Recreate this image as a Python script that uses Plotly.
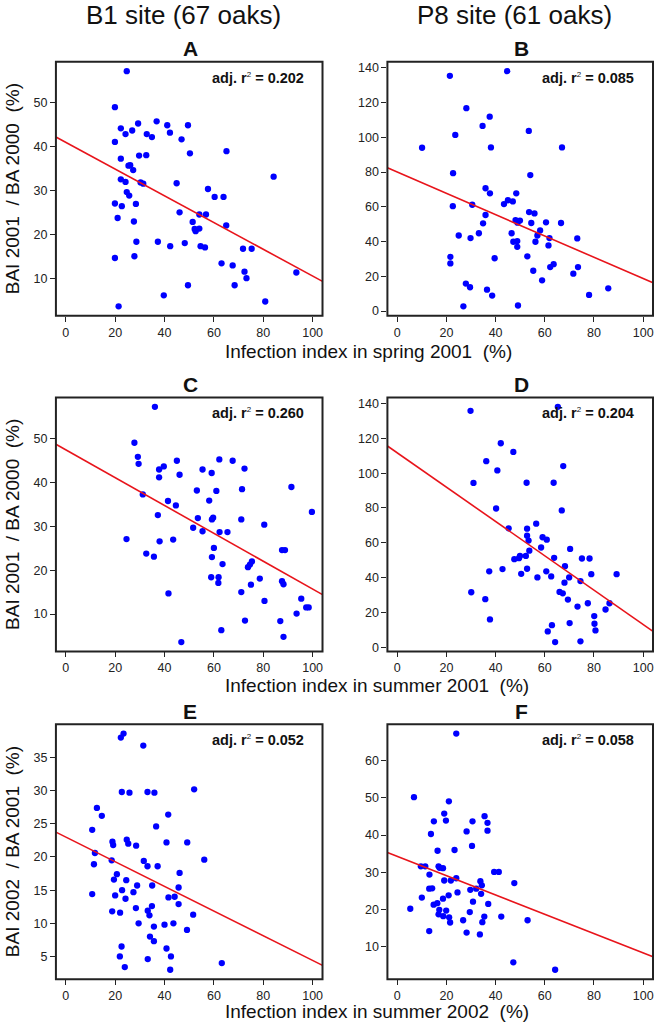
import plotly.graph_objects as go

W, H = 657, 1026
FONT = "Liberation Sans, Arial, sans-serif"

# ---------------- data ----------------
xA = [24.7, 19.9, 19.9, 22.3, 24.2, 26.9, 29.3, 36.8, 41.1, 49.5, 32.8, 34.9, 42.2, 46.9,
      22.3, 29.7, 32.6, 50.3, 65.1, 25.4, 26.1, 27.3, 22.3, 24.2, 30.3, 31.4, 44.9, 84.2,
      24.7, 25.7, 57.6, 60.3, 63.9, 19.9, 28.4, 22.7, 46.1, 21.0, 27.6, 54.1, 56.8, 65.0,
      51.4, 52.2, 52.6, 54.1, 28.6, 37.3, 48.2, 42.3, 54.6, 56.4, 71.8, 75.3, 19.9, 27.8,
      63.1, 67.6, 72.4, 73.2, 93.4, 49.5, 68.4, 39.7, 80.8, 21.4]
yA = [57.2, 49.0, 41.1, 44.2, 42.9, 43.7, 45.3, 45.8, 44.9, 44.9, 42.9, 42.2, 43.2, 41.7,
      37.3, 38.0, 38.1, 38.5, 39.0, 35.7, 35.8, 34.7, 32.6, 32.0, 31.9, 31.6, 31.7, 33.2,
      29.7, 28.9, 30.4, 28.6, 28.6, 27.1, 27.0, 26.5, 25.1, 23.8, 23.0, 24.6, 24.6, 22.1,
      22.9, 21.3, 20.8, 21.4, 18.4, 18.4, 18.1, 17.4, 17.4, 17.1, 16.8, 16.8, 14.7, 15.1,
      13.5, 13.0, 11.6, 10.1, 11.4, 8.5, 8.5, 6.2, 4.8, 3.7]

xB = [10.1, 21.4, 44.7, 28.1, 37.6, 34.7, 23.6, 53.5, 38.1, 67.0, 22.7, 54.1, 35.9, 37.7,
      48.4, 22.6, 30.5, 43.4, 45.0, 47.0, 35.9, 53.6, 55.8, 34.9, 48.1, 49.9, 48.9, 54.5,
      60.5, 66.6, 25.0, 33.2, 29.8, 46.5, 58.1, 57.0, 47.2, 48.8, 56.2, 48.8, 61.9, 61.5,
      73.2, 21.6, 21.6, 39.6, 52.9, 55.3, 63.6, 62.2, 73.5, 71.6, 58.9, 27.9, 29.6, 36.5,
      85.8, 38.6, 78.0, 26.9, 49.1]
yB = [94.0, 135.4, 138.1, 116.8, 111.9, 106.6, 101.4, 103.7, 94.2, 94.2, 79.4, 78.3, 70.7,
      67.8, 67.8, 60.4, 61.2, 61.6, 63.8, 63.1, 55.3, 57.0, 56.2, 50.5, 52.4, 52.1, 50.9,
      50.7, 51.1, 50.7, 43.5, 44.8, 42.0, 44.8, 46.4, 43.5, 39.9, 40.3, 39.9, 37.0, 42.0,
      37.8, 41.8, 31.2, 27.4, 30.4, 31.5, 23.2, 27.0, 25.3, 25.3, 21.5, 17.7, 15.8, 13.7,
      12.3, 13.1, 8.9, 9.3, 2.7, 3.2]

xC = [36.1, 27.8, 29.2, 29.5, 37.8, 39.7, 45.0, 46.1, 37.8, 55.4, 59.1, 62.2, 67.6, 72.4,
      31.2, 53.1, 61.0, 71.4, 91.4, 41.4, 44.6, 58.1, 37.3, 53.5, 59.2, 59.7, 71.1, 80.4,
      99.7, 24.6, 38.0, 43.5, 51.6, 55.4, 62.3, 65.5, 60.0, 87.6, 88.8, 32.6, 35.7, 59.2,
      63.5, 73.8, 74.6, 75.4, 58.9, 61.9, 78.6, 61.8, 75.0, 87.6, 88.2, 41.6, 71.1, 95.4,
      80.5, 93.5, 97.4, 98.4, 72.6, 86.9, 63.0, 88.2, 46.8]
yC = [57.3, 49.1, 45.9, 44.3, 43.0, 43.7, 45.0, 41.8, 41.2, 43.0, 42.2, 45.3, 45.0, 43.2,
      37.3, 38.2, 38.1, 38.5, 39.0, 35.8, 34.8, 35.9, 32.6, 31.9, 31.6, 32.0, 31.6, 30.4,
      33.3, 27.1, 26.6, 27.0, 29.7, 28.9, 28.7, 28.7, 25.1, 24.6, 24.6, 23.8, 23.1, 23.0,
      21.4, 20.7, 21.3, 22.0, 18.4, 18.4, 18.1, 17.1, 16.7, 17.5, 16.8, 14.7, 15.0, 13.5,
      13.0, 10.1, 11.5, 11.5, 8.5, 8.4, 6.3, 4.8, 3.6]

xD = [29.8, 65.3, 42.1, 47.2, 36.2, 40.7, 67.5, 31.0, 52.6, 63.6, 40.2, 66.9, 56.5, 45.3,
      52.8, 52.8, 59.1, 60.8, 53.4, 58.5, 53.7, 70.3, 52.3, 49.9, 49.5, 47.6, 63.8, 75.1,
      78.2, 68.2, 42.8, 52.8, 37.4, 60.6, 50.4, 57.0, 62.6, 69.9, 78.9, 89.2, 74.5, 68.0,
      30.1, 66.0, 67.3, 35.8, 69.4, 73.3, 77.5, 86.3, 84.7, 80.1, 37.7, 70.1, 80.2, 62.9,
      61.2, 80.6, 64.2, 74.5]
yD = [135.8, 138.1, 117.2, 112.2, 106.9, 101.6, 104.1, 94.4, 94.5, 94.5, 79.7, 78.6, 71.0,
      68.3, 68.1, 64.1, 63.2, 61.8, 61.3, 57.3, 55.5, 56.5, 52.5, 52.5, 51.2, 50.6, 51.4,
      51.0, 51.0, 46.6, 44.9, 45.1, 43.6, 43.6, 42.2, 40.1, 40.7, 40.1, 42.0, 42.0, 38.0,
      37.1, 31.6, 31.8, 31.0, 27.6, 27.4, 23.4, 25.3, 25.3, 21.7, 17.9, 16.0, 13.9, 13.5,
      12.7, 9.1, 9.7, 3.0, 3.4]

xE = [23.4, 22.3, 31.4, 22.7, 25.8, 33.1, 35.9, 52.0, 12.6, 14.6, 41.5, 36.6, 10.7, 18.9,
      19.2, 24.7, 25.3, 28.5, 40.8, 49.2, 11.8, 18.6, 11.4, 31.6, 33.1, 37.2, 56.1, 20.7,
      19.5, 24.5, 46.1, 28.9, 35.0, 45.7, 22.8, 27.4, 10.7, 20.0, 24.2, 41.6, 44.1, 45.7,
      34.9, 28.4, 18.8, 22.0, 33.2, 33.9, 51.6, 29.5, 40.0, 43.6, 35.7, 49.1, 34.1, 35.7,
      22.6, 40.8, 21.9, 42.6, 33.2, 63.2, 23.9, 42.3]
yE = [38.6, 38.0, 36.8, 29.8, 29.7, 29.8, 29.7, 30.2, 27.4, 26.2, 26.4, 24.6, 24.1, 22.3,
      21.8, 22.6, 22.0, 21.7, 22.2, 22.2, 20.6, 19.5, 18.9, 19.4, 18.6, 18.6, 19.6, 17.4,
      16.6, 16.5, 17.6, 15.7, 15.7, 15.4, 15.0, 14.7, 14.4, 14.2, 13.7, 13.9, 14.0, 12.9,
      12.6, 12.3, 11.8, 11.6, 11.9, 11.2, 11.3, 10.0, 9.8, 10.0, 9.5, 9.0, 8.0, 7.3,
      6.5, 6.2, 5.0, 5.0, 4.6, 4.0, 3.4, 3.0]

xF = [24.0, 6.8, 21.0, 19.1, 19.8, 14.9, 30.6, 35.5, 36.7, 36.7, 28.2, 13.7, 30.4, 16.4,
      23.3, 9.6, 11.4, 16.8, 17.2, 18.6, 13.1, 39.4, 41.3, 24.0, 19.1, 21.8, 33.8, 34.4,
      47.6, 13.0, 14.2, 29.7, 32.1, 24.5, 34.1, 10.0, 20.9, 18.6, 30.8, 37.0, 14.8, 16.3,
      5.3, 17.1, 19.9, 29.5, 16.8, 18.7, 21.1, 35.4, 42.3, 21.5, 26.8, 34.6, 53.0, 13.0,
      28.2, 33.6, 47.2, 64.2]
yF = [67.3, 50.2, 49.1, 45.8, 43.9, 43.7, 43.7, 45.1, 43.3, 41.2, 41.0, 40.3, 37.1, 35.8,
      36.0, 31.6, 31.6, 31.6, 31.2, 31.1, 29.4, 30.1, 30.1, 28.4, 27.8, 27.8, 27.6, 26.5,
      27.1, 25.6, 25.7, 25.3, 25.6, 24.6, 24.2, 23.2, 23.8, 22.9, 22.1, 21.5, 21.3, 21.7,
      20.2, 19.9, 19.7, 19.3, 18.7, 18.2, 17.9, 18.1, 18.1, 16.5, 17.1, 16.6, 17.1, 14.2,
      13.8, 13.3, 5.8, 3.8]

panel_letters = ["A", "B", "C", "D", "E", "F"]
adj_r2 = ["0.202", "0.085", "0.260", "0.204", "0.052", "0.058"]
fit_intercept = [41.0, 80.0, 47.5, 111.7, 23.0, 34.3]
fit_slope = [-0.304, -0.613, -0.318, -0.986, -0.186, -0.260]

x_ticks = [0, 20, 40, 60, 80, 100]
y_ticks_A = [10, 20, 30, 40, 50]
y_ticks_B = [0, 20, 40, 60, 80, 100, 120, 140]
y_ticks_C = [10, 20, 30, 40, 50]
y_ticks_D = [0, 20, 40, 60, 80, 100, 120, 140]
y_ticks_E = [5, 10, 15, 20, 25, 30, 35]
y_ticks_F = [10, 20, 30, 40, 50, 60]

site_titles = ["B1 site (67 oaks)", "P8 site (61 oaks)"]
x_titles = ["Infection index in spring 2001\u00a0 (%)",
            "Infection index in summer 2001\u00a0 (%)",
            "Infection index in summer 2002\u00a0 (%)"]
y_titles = ["BAI 2001\u00a0 / BA 2000\u00a0 (%)",
            "BAI 2001\u00a0 / BA 2000\u00a0 (%)",
            "BAI 2002\u00a0 / BA 2001\u00a0 (%)"]

xs = [xA, xB, xC, xD, xE, xF]
ys = [yA, yB, yC, yD, yE, yF]
yticks = [y_ticks_A, y_ticks_B, y_ticks_C, y_ticks_D, y_ticks_E, y_ticks_F]

# ---------------- layout geometry (pixels) ----------------
col_left = [56, 388]
col_right = [323, 654]
row_top = [61, 398, 726]
row_bottom = [316, 653, 982]
X_RANGE = [-4, 104]


def px(p):
    return p / W


def py(p):
    return 1 - p / H


fig = go.Figure()
annotations = []
shapes = []

for i in range(6):
    r, c = divmod(i, 2)
    n = i + 1
    xa = "x" if n == 1 else f"x{n}"
    ya = "y" if n == 1 else f"y{n}"
    xd = [px(col_left[c]), px(col_right[c])]
    yd = [py(row_bottom[r]), py(row_top[r])]

    yv = ys[i]
    ymin, ymax = min(yv), max(yv)
    pad = 0.04 * (ymax - ymin)
    y_range = [ymin - pad, ymax + pad]

    fig.add_trace(go.Scatter(
        x=xs[i], y=yv, mode="markers", xaxis=xa, yaxis=ya,
        marker=dict(color="#0000ff", size=6.3, line=dict(width=0)),
        showlegend=False, hoverinfo="skip"))

    lx = X_RANGE
    ly = [fit_intercept[i] + fit_slope[i] * v for v in lx]
    fig.add_trace(go.Scatter(
        x=lx, y=ly, mode="lines", xaxis=xa, yaxis=ya,
        line=dict(color="#e8141b", width=1.6),
        showlegend=False, hoverinfo="skip", cliponaxis=True))

    axkw = dict(ticks="outside", ticklen=5, tickwidth=1, tickcolor="#222",
                showgrid=False, zeroline=False, showline=False,
                tickfont=dict(family=FONT, size=12.5, color="#222"))
    fig.update_layout(**{
        ("xaxis" if n == 1 else f"xaxis{n}"): dict(
            domain=xd, anchor=ya, range=X_RANGE, tickvals=x_ticks, **axkw),
        ("yaxis" if n == 1 else f"yaxis{n}"): dict(
            domain=yd, anchor=xa, range=y_range, tickvals=yticks[i], **axkw),
    })

    shapes.append(dict(type="rect", xref="paper", yref="paper",
                       x0=xd[0], x1=xd[1], y0=yd[0], y1=yd[1],
                       line=dict(color="#222", width=2), layer="above"))

    # panel letter
    annotations.append(dict(
        text=f"<b>{panel_letters[i]}</b>", x=px((col_left[c] + col_right[c]) / 2 + 1),
        y=py(row_top[r] - 13), xref="paper", yref="paper",
        xanchor="center", yanchor="middle", showarrow=False,
        font=dict(family=FONT, size=21, color="#111")))
    # adj r2
    annotations.append(dict(
        text=(f"<b>adj. r</b><sup><span style='font-size:8px'>2</span></sup>"
              f"<b> = {adj_r2[i]}</b>"),
        x=px(col_right[c] - 17), y=py(row_top[r] + 16),
        xref="paper", yref="paper", xanchor="right", yanchor="middle",
        showarrow=False, font=dict(family=FONT, size=14.5, color="#111")))

# column headers
for c in range(2):
    annotations.append(dict(
        text=site_titles[c], x=px([184, 515][c]), y=py(14),
        xref="paper", yref="paper", xanchor="center", yanchor="middle",
        showarrow=False, font=dict(family=FONT, size=26, color="#111")))

# axis titles
x_title_y = [352, 687, 1014]
for r in range(3):
    annotations.append(dict(
        text=x_titles[r], x=px(223), y=py(x_title_y[r]),
        xref="paper", yref="paper", xanchor="left", yanchor="middle",
        showarrow=False, font=dict(family=FONT, size=19, color="#111")))
    annotations.append(dict(
        text=y_titles[r], x=px(12.5), y=py((row_top[r] + row_bottom[r]) / 2),
        xref="paper", yref="paper", xanchor="center", yanchor="middle",
        textangle=-90, showarrow=False,
        font=dict(family=FONT, size=19, color="#111")))

fig.update_layout(
    width=W, height=H, margin=dict(l=0, r=0, t=0, b=0),
    paper_bgcolor="white", plot_bgcolor="white",
    annotations=annotations, shapes=shapes,
    font=dict(family=FONT),
)

fig.write_html(
    "out.html",
    config={"displayModeBar": False},
    post_script="document.body.style.margin='0';document.body.style.overflow='hidden';",
)
